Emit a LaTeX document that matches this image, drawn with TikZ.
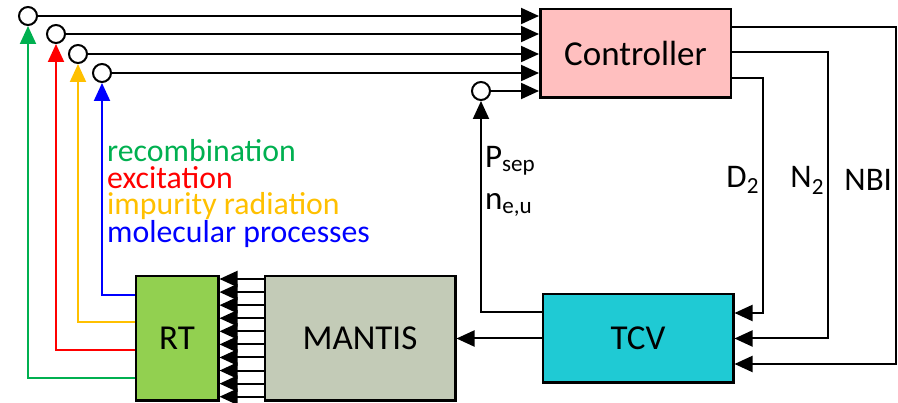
\documentclass[tikz,border=0pt]{standalone}
\usepackage{fontspec}
\setmainfont{Carlito}
\usepackage{tikz}
\usetikzlibrary{arrows.meta, positioning, calc}
\definecolor{ctrlpink}{RGB}{255,191,191}
\definecolor{tcvcyan}{RGB}{31,202,212}
\definecolor{mantisgrey}{RGB}{195,203,183}
\definecolor{rtgreen}{RGB}{146,208,80}
\definecolor{lgreen}{RGB}{0,176,80}
\definecolor{lred}{RGB}{255,0,0}
\definecolor{lyellow}{RGB}{255,192,0}
\definecolor{lblue}{RGB}{0,0,255}

\begin{document}
\begin{tikzpicture}[x=1pt, y=-1pt,
  blk/.style={rectangle, draw=black, line width=2.5pt, minimum width=190.5pt, minimum height=88.5pt, align=center, font=\fontsize{35}{40}\selectfont},
  junc/.style={circle, draw=black, line width=2pt, fill=white, minimum size=18pt, inner sep=0pt},
  arr/.style={-{Triangle[length=18pt, width=16pt]}, line width=2pt},
  lbl/.style={font=\fontsize{33}{42}\selectfont, inner sep=3pt, align=left}
]
\useasboundingbox (0,0) rectangle (898,403);
\node[blk, fill=ctrlpink] (ctrl) at (635.5,53.5) {Controller};
\node[blk, fill=tcvcyan, below=194pt of ctrl, xshift=2.5pt] (tcv) {TCV};
\node[blk, fill=mantisgrey, minimum height=124.5pt, left=85pt of tcv] (mantis) {MANTIS};
\node[blk, fill=rtgreen, minimum width=82.5pt, minimum height=124.5pt, left=44pt of mantis] (rt) {RT};

\node[junc] (jgreen) at (28,16) {};
\node[junc] (jred) at (56,34) {};
\node[junc] (jyellow) at (78,54) {};
\node[junc] (jblue) at (102,73) {};
\node[junc] (jsep) at (481,91) {};

\node[anchor=west, inner sep=0pt, align=left, font=\fontsize{31.8}{26.4}\selectfont] (legend) at (107,194)
  {\textcolor{lgreen}{recombination}\\\textcolor{lred}{excitation}\\\textcolor{lyellow}{impurity radiation}\\\textcolor{lblue}{molecular processes}};

\foreach \j in {jgreen, jred, jyellow, jblue, jsep}
  \draw[arr] (\j) -- (\j -| ctrl.west);

\draw[arr, lgreen] ([yshift=-39.5pt]rt.west) -| (jgreen);
\draw[arr, lred] ([yshift=-11.5pt]rt.west) -| (jred);
\draw[arr, lyellow] ([yshift=16.5pt]rt.west) -| (jyellow);
\draw[arr, lblue] ([yshift=43.5pt]rt.west) -| (jblue);

\foreach \i in {0,...,9}
  \draw[arr] ([yshift={-4pt-\i*13.08pt}]mantis.north west) -- ([yshift={-4pt-\i*13.08pt}]rt.north east);

\draw[arr] (tcv.west) -- (mantis.east);
\draw[arr] ([yshift=26.5pt]tcv.west) -| node[pos=0.81, right, lbl]{P\textsubscript{sep}\\n\textsubscript{e,u}} (jsep);

\draw[arr] ([yshift=-24.5pt]ctrl.east) -- ++(31,0) |- node[pos=0.217, left, lbl]{D\textsubscript{2}} ([yshift=25.5pt]tcv.east);
\draw[arr] ([yshift=1.5pt]ctrl.east) -- ++(96,0) |- node[pos=0.224, left, lbl]{N\textsubscript{2}} (tcv.east);
\draw[arr] ([yshift=26.5pt]ctrl.east) -- ++(164,0) |- node[pos=0.227, left, lbl]{NBI} ([yshift=-25.5pt]tcv.east);
\end{tikzpicture}
\end{document}
